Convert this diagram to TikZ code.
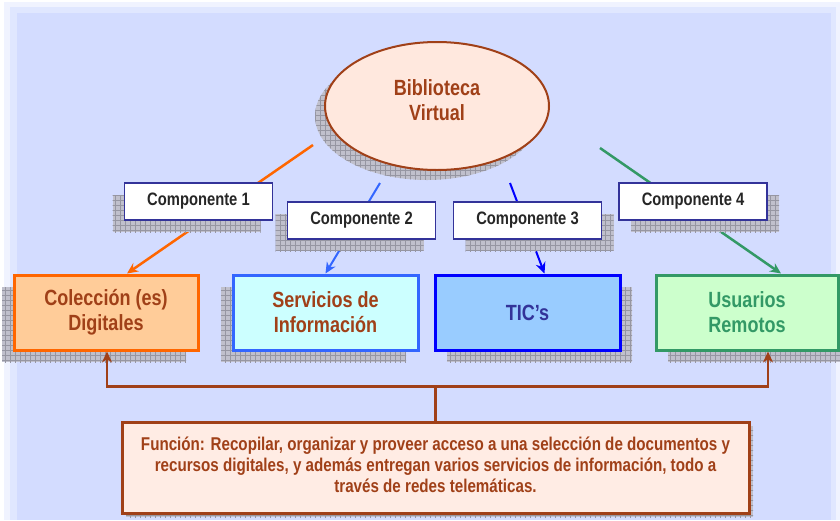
\documentclass[tikz,border=0pt]{standalone}
\usepackage{fontspec}
\setmainfont{Liberation Sans}[FakeStretch=0.82]
\usetikzlibrary{shapes.geometric, arrows.meta, shadows, patterns.meta}

\definecolor{PageBlue}{RGB}{211,220,255}
\definecolor{BiblioFill}{RGB}{255,232,222}
\definecolor{BiblioBrown}{RGB}{160,64,24}
\definecolor{LabelNavy}{RGB}{51,51,153}
\definecolor{ColOrange}{RGB}{255,102,0}
\definecolor{ColFill}{RGB}{255,204,153}
\definecolor{SerBlue}{RGB}{51,102,255}
\definecolor{SerFill}{RGB}{204,255,255}
\definecolor{TicBlue}{RGB}{0,0,255}
\definecolor{TicFill}{RGB}{153,204,255}
\definecolor{TicText}{RGB}{51,51,153}
\definecolor{UsuGreen}{RGB}{51,153,102}
\definecolor{UsuFill}{RGB}{204,255,204}
\definecolor{FunFill}{RGB}{255,236,228}
\definecolor{ShadeBase}{RGB}{192,192,204}
\definecolor{ShadeLine}{RGB}{150,150,162}

\tikzdeclarepattern{
  name=shadegrid,
  type=uncolored,
  bounding box={(-0.5pt,-0.5pt) and (5.5pt,5.5pt)},
  tile size={(5pt,5pt)},
  code={
    \draw[line width=0.5pt] (0pt,0pt) -- (5pt,0pt) (0pt,0pt) -- (0pt,5pt);
  }
}

\tikzset{
  gridshadow/.style 2 args={
    general shadow={shadow xshift=#1, shadow yshift=#2, fill=ShadeBase},
    general shadow={shadow xshift=#1, shadow yshift=#2, pattern=shadegrid, pattern color=ShadeLine}
  },
  mainbox/.style={rectangle, line width=3pt, minimum width=185pt, minimum height=75pt,
    align=center, font=\bfseries\fontsize{22}{25}\selectfont},
  complabel/.style={rectangle, draw=LabelNavy, line width=1.8pt, fill=white,
    minimum width=148pt, minimum height=37pt, text=black!85,
    font=\bfseries\fontsize{18}{20}\selectfont},
  linkarrow/.style={line width=2.5pt, -{Stealth[length=11pt,width=10pt]}}
}

\begin{document}
\begin{tikzpicture}[x=1pt, y=-1pt]
    \useasboundingbox (0,0) rectangle (840,520);

    % Background
    \fill[white] (0,0) rectangle (840,520);
    \fill[PageBlue!35] (4,2) rectangle (840,520);
    \fill[PageBlue!70] (10,7) rectangle (836,520);
    \fill[PageBlue] (17,13) rectangle (831,520);

    % Biblioteca Virtual
    \node[ellipse, draw=BiblioBrown, line width=2pt, fill=BiblioFill, minimum width=224pt,
      minimum height=128pt, align=center, text=BiblioBrown, text depth=12pt,
      font=\bfseries\fontsize{22}{25}\selectfont, gridshadow={-10pt}{-10pt}] (bib) at (437,106) {Biblioteca\\Virtual};

    % Colecciones
    \node[mainbox, draw=ColOrange, fill=ColFill, text=BiblioBrown, minimum width=184pt,
      gridshadow={-12pt}{-12pt}] (col) at (106,312.5) {Colección (es)\\Digitales};

    % Servicios
    \node[mainbox, draw=SerBlue, fill=SerFill, text=BiblioBrown,
      gridshadow={-12pt}{-12pt}] (svc) at (325.5,312.5) {Servicios de\\Información};

    % TIC
    \node[mainbox, draw=TicBlue, fill=TicFill, text=TicText,
      gridshadow={12pt}{-12pt}] (tic) at (527.5,312.5) {TIC’s};

    % Usuarios
    \node[mainbox, draw=UsuGreen, fill=UsuFill, text=UsuGreen, minimum width=182pt,
      gridshadow={12pt}{-12pt}] (usu) at (747,312.5) {Usuarios\\Remotos};

    % Funcion
    \node[rectangle, draw=BiblioBrown, line width=3pt, fill=FunFill, text=BiblioBrown,
      minimum width=627pt, minimum height=91pt, align=center, text depth=6pt,
      font=\bfseries\fontsize{18.5}{21}\selectfont, gridshadow={4pt}{-4pt}] (fun) at (435.5,467.5)
      {Función: Recopilar, organizar y proveer acceso a una selección de documentos y\\
       recursos digitales, y además entregan varios servicios de información, todo a\\
       través de redes telemáticas.};

    % Components
    \coordinate (o1) at (313,145);
    \coordinate (o2) at (380,183);
    \coordinate (o3) at (510,183);
    \coordinate (o4) at (600,148);
    \draw[linkarrow, ColOrange] (o1) -- ([xshift=21pt]col.north);
    \draw[linkarrow, SerBlue, line width=2pt] (o2) -- (svc.north);
    \draw[linkarrow, TicBlue, line width=2pt] (o3) -- ([xshift=17pt]tic.north);
    \draw[linkarrow, UsuGreen] (o4) -- ([xshift=34pt]usu.north);

    \node[complabel, gridshadow={-12pt}{-12pt}] (comp1) at (198.5,201.5) {Componente 1};
    \node[complabel, gridshadow={-12pt}{-12pt}] (comp2) at (361.5,220.5) {Componente 2};
    \node[complabel, gridshadow={12pt}{-12pt}] (comp3) at (527.5,220.5) {Componente 3};
    \node[complabel, gridshadow={12pt}{-12pt}] (comp4) at (693,201.5) {Componente 4};

    \draw[linkarrow, BiblioBrown] (fun.north) -- ++(0,-34) -| ([xshift=1pt]col.south);
    \draw[linkarrow, BiblioBrown] (fun.north) -- ++(0,-34) -| ([xshift=21pt]usu.south);
\end{tikzpicture}
\end{document}
